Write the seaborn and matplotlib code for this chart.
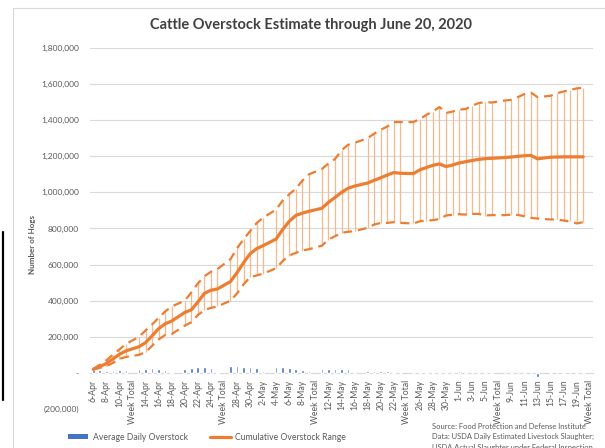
import numpy as np
import pandas as pd
import matplotlib
matplotlib.use("Agg")
import matplotlib.pyplot as plt
import seaborn as sns
from matplotlib.lines import Line2D
from matplotlib.patches import Patch
from matplotlib.ticker import FuncFormatter

# ---------------- data ----------------
categories = [
    "6-Apr", "7-Apr", "8-Apr", "9-Apr", "10-Apr", "11-Apr", "Week Total",
    "13-Apr", "14-Apr", "15-Apr", "16-Apr", "17-Apr", "18-Apr", "Week Total",
    "20-Apr", "21-Apr", "22-Apr", "23-Apr", "24-Apr", "25-Apr", "Week Total",
    "27-Apr", "28-Apr", "29-Apr", "30-Apr", "1-May", "2-May", "Week Total",
    "4-May", "5-May", "6-May", "7-May", "8-May", "9-May", "Week Total",
    "11-May", "12-May", "13-May", "14-May", "15-May", "16-May", "Week Total",
    "18-May", "19-May", "20-May", "21-May", "22-May", "23-May", "Week Total",
    "25-May", "26-May", "27-May", "28-May", "29-May", "30-May", "Week Total",
    "1-Jun", "2-Jun", "3-Jun", "4-Jun", "5-Jun", "6-Jun", "Week Total",
    "8-Jun", "9-Jun", "10-Jun", "11-Jun", "12-Jun", "13-Jun", "Week Total",
    "15-Jun", "16-Jun", "17-Jun", "18-Jun", "19-Jun", "20-Jun", "Week Total",
]

N = None
avg_daily_overstock = [
    18000, 14000, 12000, 10000, 15000, 14000, N,
    22000, 22000, 25000, 22000, 18000, 7000, N,
    22000, 27000, 31000, 31000, 25000, 4000, N,
    38000, 40000, 35000, 30000, 26000, 13000, N,
    35000, 30000, 26000, 22000, 18000, 9000, N,
    22000, 20000, 20000, 20000, 20000, 2000, N,
    11000, 11000, 11000, 10000, 6000, -3000, N,
    -3000, 7000, 4000, 4000, 4000, -4000, 1000,
    9000, 1000, 1000, 1000, 1000, -3000, N,
    1000, 1000, 1000, 1000, 1000, -20000, N,
    1000, 1000, 1000, 1000, -3000, 1000, N,
]

cumulative_mid = [
    20000, 35000, 52000, 77000, 103000, 122000, N,
    145000, 168000, 205000, 245000, 272000, 287000, N,
    335000, 349000, 392000, 440000, 458000, 465000, N,
    506000, 555000, 610000, 660000, 688000, 705000, N,
    742000, 795000, 840000, 872000, 885000, 895000, N,
    912000, 945000, 972000, 1000000, 1023000, 1035000, N,
    1052000, 1067000, 1081000, 1096000, 1110000, 1106000, N,
    1104000, 1125000, 1138000, 1150000, 1158000, 1143000, 1152000,
    1163000, 1170000, 1177000, 1183000, 1187000, 1189000, N,
    1193000, 1196000, 1200000, 1203000, 1205000, 1186000, N,
    1195000, 1196000, 1197000, 1197000, 1197000, 1197000, N,
]

cumulative_upper = [
    22000, 45000, 70000, 100000, 130000, 160000, N,
    200000, 235000, 268000, 305000, 340000, 368000, N,
    400000, 445000, 495000, 535000, 560000, 575000, N,
    630000, 690000, 740000, 785000, 830000, 860000, N,
    905000, 955000, 990000, 1020000, 1065000, 1100000, N,
    1130000, 1160000, 1185000, 1233000, 1264000, 1274000, N,
    1301000, 1325000, 1347000, 1365000, 1390000, 1390000, N,
    1390000, 1406000, 1430000, 1448000, 1473000, 1440000, 1448000,
    1458000, 1462000, 1480000, 1495000, 1500000, 1498000, N,
    1509000, 1513000, 1528000, 1545000, 1553000, 1528000, N,
    1535000, 1550000, 1559000, 1568000, 1576000, 1580000, N,
]

cumulative_lower = [
    18000, 28000, 38000, 55000, 78000, 88000, N,
    100000, 115000, 150000, 185000, 210000, 215000, N,
    262000, 280000, 320000, 348000, 360000, 368000, N,
    400000, 440000, 490000, 530000, 540000, 550000, N,
    580000, 620000, 650000, 665000, 678000, 685000, N,
    705000, 739000, 757000, 776000, 782000, 785000, N,
    804000, 822000, 831000, 831000, 835000, 831000, N,
    828000, 840000, 844000, 846000, 853000, 872000, 876000,
    879000, 877000, 881000, 881000, 872000, 874000, N,
    874000, 877000, 875000, 868000, 859000, 855000, N,
    850000, 850000, 844000, 839000, 828000, 835000, N,
]

title = "Cattle Overstock Estimate through June 20, 2020"
y_label = "Number of Hogs"
legend_labels = ["Average Daily Overstock", "Cumulative Overstock Range"]
source_lines = [
    "Source: Food Protection and Defense Institute",
    "Data: USDA Daily Estimated Livestock Slaughter;",
    "USDA Actual Slaughter under Federal Inspection",
]

# ---------------- styling ----------------
ORANGE = "#ED7D31"
RANGE_C = "#F6B98E"
BLUE = "#4472C4"
GRID = "#D9D9D9"
TXT = "#595959"

sns.set_theme(style="white")
plt.rcParams["font.family"] = ["Lato", "DejaVu Sans"]

df = pd.DataFrame({
    "idx": np.arange(len(categories)),
    "category": categories,
    "bar": pd.to_numeric(pd.Series(avg_daily_overstock), errors="coerce"),
    "mid": pd.to_numeric(pd.Series(cumulative_mid), errors="coerce"),
    "upper": pd.to_numeric(pd.Series(cumulative_upper), errors="coerce"),
    "lower": pd.to_numeric(pd.Series(cumulative_lower), errors="coerce"),
})

W, H = 605, 448
fig = plt.figure(figsize=(W / 100, H / 100), dpi=100)
fig.patch.set_facecolor("white")

# chart border and stray edge line seen in the reference
fig.add_artist(Line2D([13 / W, 1.0], [1 - 8 / H, 1 - 8 / H], color=GRID, lw=0.8))
fig.add_artist(Line2D([13 / W, 13 / W], [0, 1 - 8 / H], color=GRID, lw=0.8))
fig.add_artist(Line2D([2.5 / W, 2.5 / W], [1 - 400 / H, 1 - 232 / H], color="black", lw=1.6))

ax = fig.add_axes([90 / W, 1 - 409 / H, (593 - 90) / W, (409 - 48) / H])
ax.set_facecolor("none")

# bars
bars = df.dropna(subset=["bar"])
sns.barplot(data=bars, x="idx", y="bar", native_scale=True, width=0.4,
            color=BLUE, saturation=1, errorbar=None, ax=ax, zorder=3)

# range high-low lines
rng = df.dropna(subset=["upper", "lower"])
ax.vlines(rng["idx"], rng["lower"], rng["upper"], color=RANGE_C, lw=0.9, zorder=2)

# dashed bounds and cumulative line
for col in ["upper", "lower"]:
    d = df.dropna(subset=[col])
    sns.lineplot(data=d, x="idx", y=col, ax=ax, color=ORANGE, lw=1.6,
                 linestyle=(0, (4, 2.6)), zorder=4, dash_capstyle="butt")
m = df.dropna(subset=["mid"])
sns.lineplot(data=m, x="idx", y="mid", ax=ax, color=ORANGE, lw=2.3, zorder=5,
             solid_joinstyle="round")

# axes frame (spine position first: it resets tick settings)
for s in ["top", "right", "left"]:
    ax.spines[s].set_visible(False)
ax.spines["bottom"].set_position(("data", 0))
ax.spines["bottom"].set_color(GRID)
ax.spines["bottom"].set_linewidth(0.8)

ax.set_xlim(-0.5, len(categories) - 0.5)
ax.set_ylim(-200000, 1800000)
ax.set_yticks(np.arange(-200000, 1800001, 200000))


def yfmt(v, pos):
    if abs(v) < 1:
        return "-"
    if v < 0:
        return f"({abs(v):,.0f})"
    return f"{v:,.0f}"


ax.yaxis.set_major_formatter(FuncFormatter(yfmt))
ax.tick_params(axis="y", length=0, pad=8, labelsize=6, labelcolor=TXT)

ticks = list(range(0, len(categories), 2))
ax.set_xticks(ticks)
ax.set_xticklabels([categories[i] for i in ticks])
ax.tick_params(axis="x", length=3, width=0.6, color=GRID, pad=2,
               labelrotation=90, labelsize=6.2, labelcolor=TXT)

ax.grid(axis="y", color=GRID, lw=0.8, zorder=0)
ax.grid(axis="x", visible=False)
ax.set_axisbelow(True)
ax.set_xlabel("")
ax.set_ylabel("")

fig.text(311 / W, 1 - 25 / H, title, ha="center", va="center", fontsize=10.5,
         fontweight="bold", color="#404040")
fig.text(33 / W, 1 - 245 / H, y_label, rotation=90, ha="center", va="center",
         fontsize=5.8, fontweight="bold", color=TXT)

handles = [Patch(facecolor=BLUE, edgecolor="none"), Line2D([0], [0], color=ORANGE, lw=2.3)]
fig.legend(handles, legend_labels, loc="center left", bbox_to_anchor=(60 / W, 1 - 437 / H),
           ncol=2, frameon=False, fontsize=6.2, handlelength=2.4, handleheight=0.6,
           columnspacing=2.6, handletextpad=0.5, labelcolor=TXT)

for k, line in enumerate(source_lines):
    fig.text(432 / W, 1 - (426 + 10.8 * k) / H, line, ha="left", va="center",
             fontsize=5.4, color=TXT)

fig.savefig("out.png", dpi=100, facecolor="white")
